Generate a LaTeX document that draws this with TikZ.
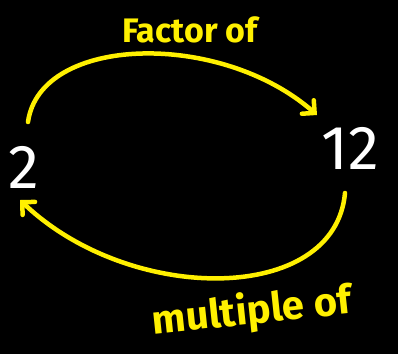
\documentclass[tikz,border=0pt]{standalone}
\usepackage{fontspec}
\setmainfont{Fira Sans}
\usetikzlibrary{arrows.meta}
\definecolor{hl}{RGB}{255,240,0}
\tikzset{
  num/.style={text=white,font=\fontsize{62}{62}\selectfont},
  lbl/.style={text=hl,font=\fontsize{34}{34}\selectfont\bfseries},
  link/.style={draw=hl,line width=4.5pt,line cap=round,
    -{Straight Barb[length=9pt,width=18pt,line cap=round]}}
}
\begin{document}
\begin{tikzpicture}[x=1pt,y=-1pt]
\fill[black] (0,0) rectangle (398,354);
\useasboundingbox (0,0) rectangle (398,354);
\node[num] (n2) at (24,167) {2};
\node[num] (n12) at (350,148) {12};
\coordinate (s1) at (28,122);
\coordinate (e1) at (317,115);
\coordinate (s2) at (345,193);
\coordinate (e2) at (20,200);
\draw[link] (s1) .. controls (40,35) and (220,30) .. (e1);
\draw[link] (s2) .. controls (335,305) and (130,305) .. (e2);
\node[lbl] (f) at (190,30) {Factor of};
\node[lbl,font=\fontsize{40}{40}\selectfont\bfseries,rotate=6] (m) at (252,312) {multiple of};
\end{tikzpicture}
\end{document}
